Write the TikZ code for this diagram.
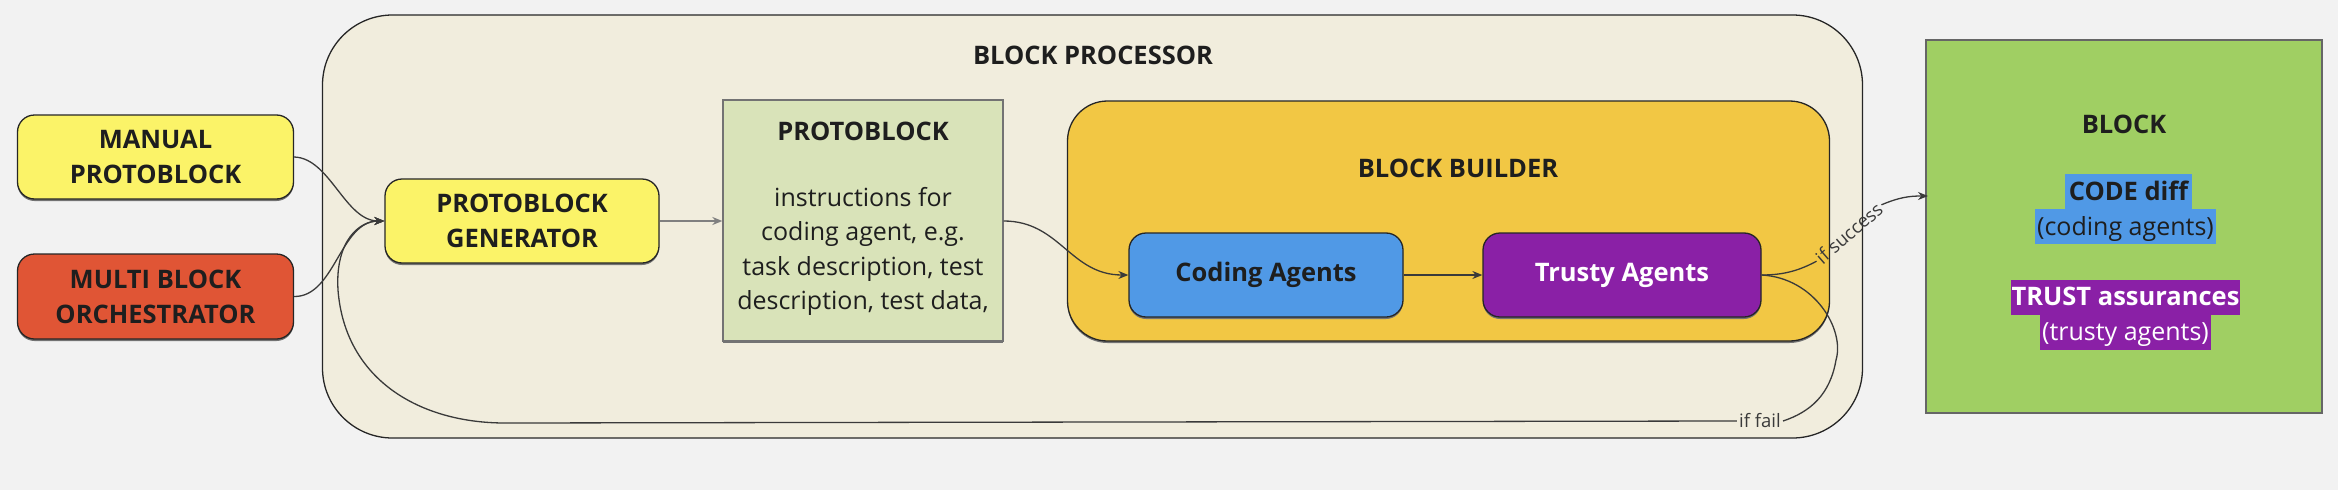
\documentclass[tikz,border=0pt]{standalone}
\usepackage{fontspec}
\setmainfont{Open Sans}
\usetikzlibrary{arrows.meta}
\definecolor{bgc}{HTML}{F2F2F2}
\definecolor{procc}{HTML}{F1EDDD}
\definecolor{yelc}{HTML}{FBF368}
\definecolor{redc}{HTML}{E05535}
\definecolor{pgc}{HTML}{D9E3B9}
\definecolor{orc}{HTML}{F2C744}
\definecolor{bluec}{HTML}{5099E6}
\definecolor{purc}{HTML}{8A20A6}
\definecolor{bgrc}{HTML}{A0CF63}
\definecolor{linec}{HTML}{262626}
\definecolor{connc}{HTML}{3A3A3A}
\definecolor{txtc}{HTML}{1E1E1E}
\begin{document}
\begin{tikzpicture}[x=1pt,y=-1pt,
  bigfont/.style={font=\bfseries\fontsize{25.5}{35}\selectfont},
  shad/.style={preaction={fill=black!55, transform canvas={yshift=-2pt}}},
  box/.style={draw=linec, line width=1.3pt, rounded corners=17pt, bigfont, align=center, text=txtc, inner sep=0pt, shad},
  conn/.style={draw=connc, line width=1.3pt},
  arr/.style={conn, -{Stealth[length=10pt,width=8pt]}},
  small/.style={font=\fontsize{18.5}{22}\selectfont, text=connc, inner sep=2pt},
  hl/.style={inner sep=0pt, font=\fontsize{25}{35}\selectfont, text height=26pt, text depth=9pt}]
\fill[bgc] (0,0) rectangle (2338,490);
% block processor
\node[draw=linec, line width=1.3pt, rounded corners=70pt, fill=procc, minimum width=1540pt, minimum height=423pt, inner sep=0pt] (proc) at (1092.5,226.5) {};
\node[bigfont, text=txtc] (proctitle) at (1093,55) {BLOCK PROCESSOR};
% inputs
\node[box, fill=yelc, minimum width=276pt, minimum height=84pt] (manual) at (155.5,157) {MANUAL\\PROTOBLOCK};
\node[box, fill=redc, minimum width=276pt, minimum height=85pt] (multi) at (155.5,296.5) {MULTI BLOCK\\ORCHESTRATOR};
\node[box, fill=yelc, minimum width=274pt, minimum height=84pt] (gen) at (522,221) {PROTOBLOCK\\GENERATOR};
% protoblock
\node[draw=black!55, line width=1.3pt, fill=pgc, minimum width=280pt, minimum height=241pt, inner sep=0pt, shad] (pb) at (863,220.5) {};
\node[bigfont, text=txtc] (pbtitle) at (863,131) {PROTOBLOCK};
\node[font=\fontsize{25}{34.3}\selectfont, text=txtc, align=center] (pbtext) at (863,251.5) {instructions for\\coding agent, e.g.\\task description, test\\description, test data,};
% block builder
\node[draw=linec, line width=1.3pt, rounded corners=40pt, fill=orc, minimum width=762pt, minimum height=240pt, inner sep=0pt, shad] (bb) at (1448.5,221) {};
\node[bigfont, text=txtc] (bbtitle) at (1458,168) {BLOCK BUILDER};
\node[box, fill=bluec, minimum width=274pt, minimum height=84pt] (coding) at (1266,275) {Coding Agents};
\node[box, fill=purc, text=white, minimum width=278pt, minimum height=84pt] (trusty) at (1622,275) {Trusty Agents};
% block output
\node[draw=black!60, line width=1.3pt, fill=bgrc, minimum width=396pt, minimum height=373pt, inner sep=0pt] (block) at (2124,226.5) {};
\node[bigfont, text=txtc] (blocktitle) at (2124,124) {BLOCK};
\node[hl, fill=bluec, text=txtc, font=\bfseries\fontsize{25.5}{35}\selectfont, minimum width=127pt] (codediff) at (2128.5,191.5) {CODE diff};
\node[hl, fill=bluec, text=txtc, minimum width=181pt] (codingag) at (2125.5,226.5) {(coding agents)};
\node[hl, fill=purc, text=white, font=\bfseries\fontsize{25.5}{35}\selectfont, minimum width=229pt] (trust) at (2125.5,297) {TRUST assurances};
\node[hl, fill=purc, text=white, minimum width=171pt] (trustyag) at (2125.5,332) {(trusty agents)};
\coordinate (bin) at (1928,196);
% connectors
\draw[arr] (manual.east) .. controls (330,158) and (345,221) .. (gen.west);
\draw[arr] (multi.east) .. controls (335,297) and (340,221) .. (gen.west);
\draw[arr, draw=black!50, line width=1.6pt] (gen.east) -- (pb.west |- gen.east);
\draw[arr] (pb.east |- gen.east) .. controls (1060,221) and (1070,275) .. (coding.west);
\draw[arr] (coding.east) -- (trusty.west);
% success
\node[small, rotate=41] (isucc) at (1849,233) {if success};
\draw[conn] (trusty.east) .. controls (1785,275) and (1800,270) .. (isucc.west);
\draw[arr] (isucc.east) .. controls (1900,197) and (1910,196) .. (bin);
% fail
\node[small] (ifail) at (1760,421) {if fail};
\draw[conn] (trusty.east) .. controls (1815,278) and (1845,330) .. (1836,360) .. controls (1830,395) and (1810,412) .. (ifail.east);
\draw[arr] (ifail.west) -- (505,423) .. controls (420,423) and (345,380) .. (338,290) .. controls (335,240) and (360,221) .. (gen.west);
\end{tikzpicture}
\end{document}
